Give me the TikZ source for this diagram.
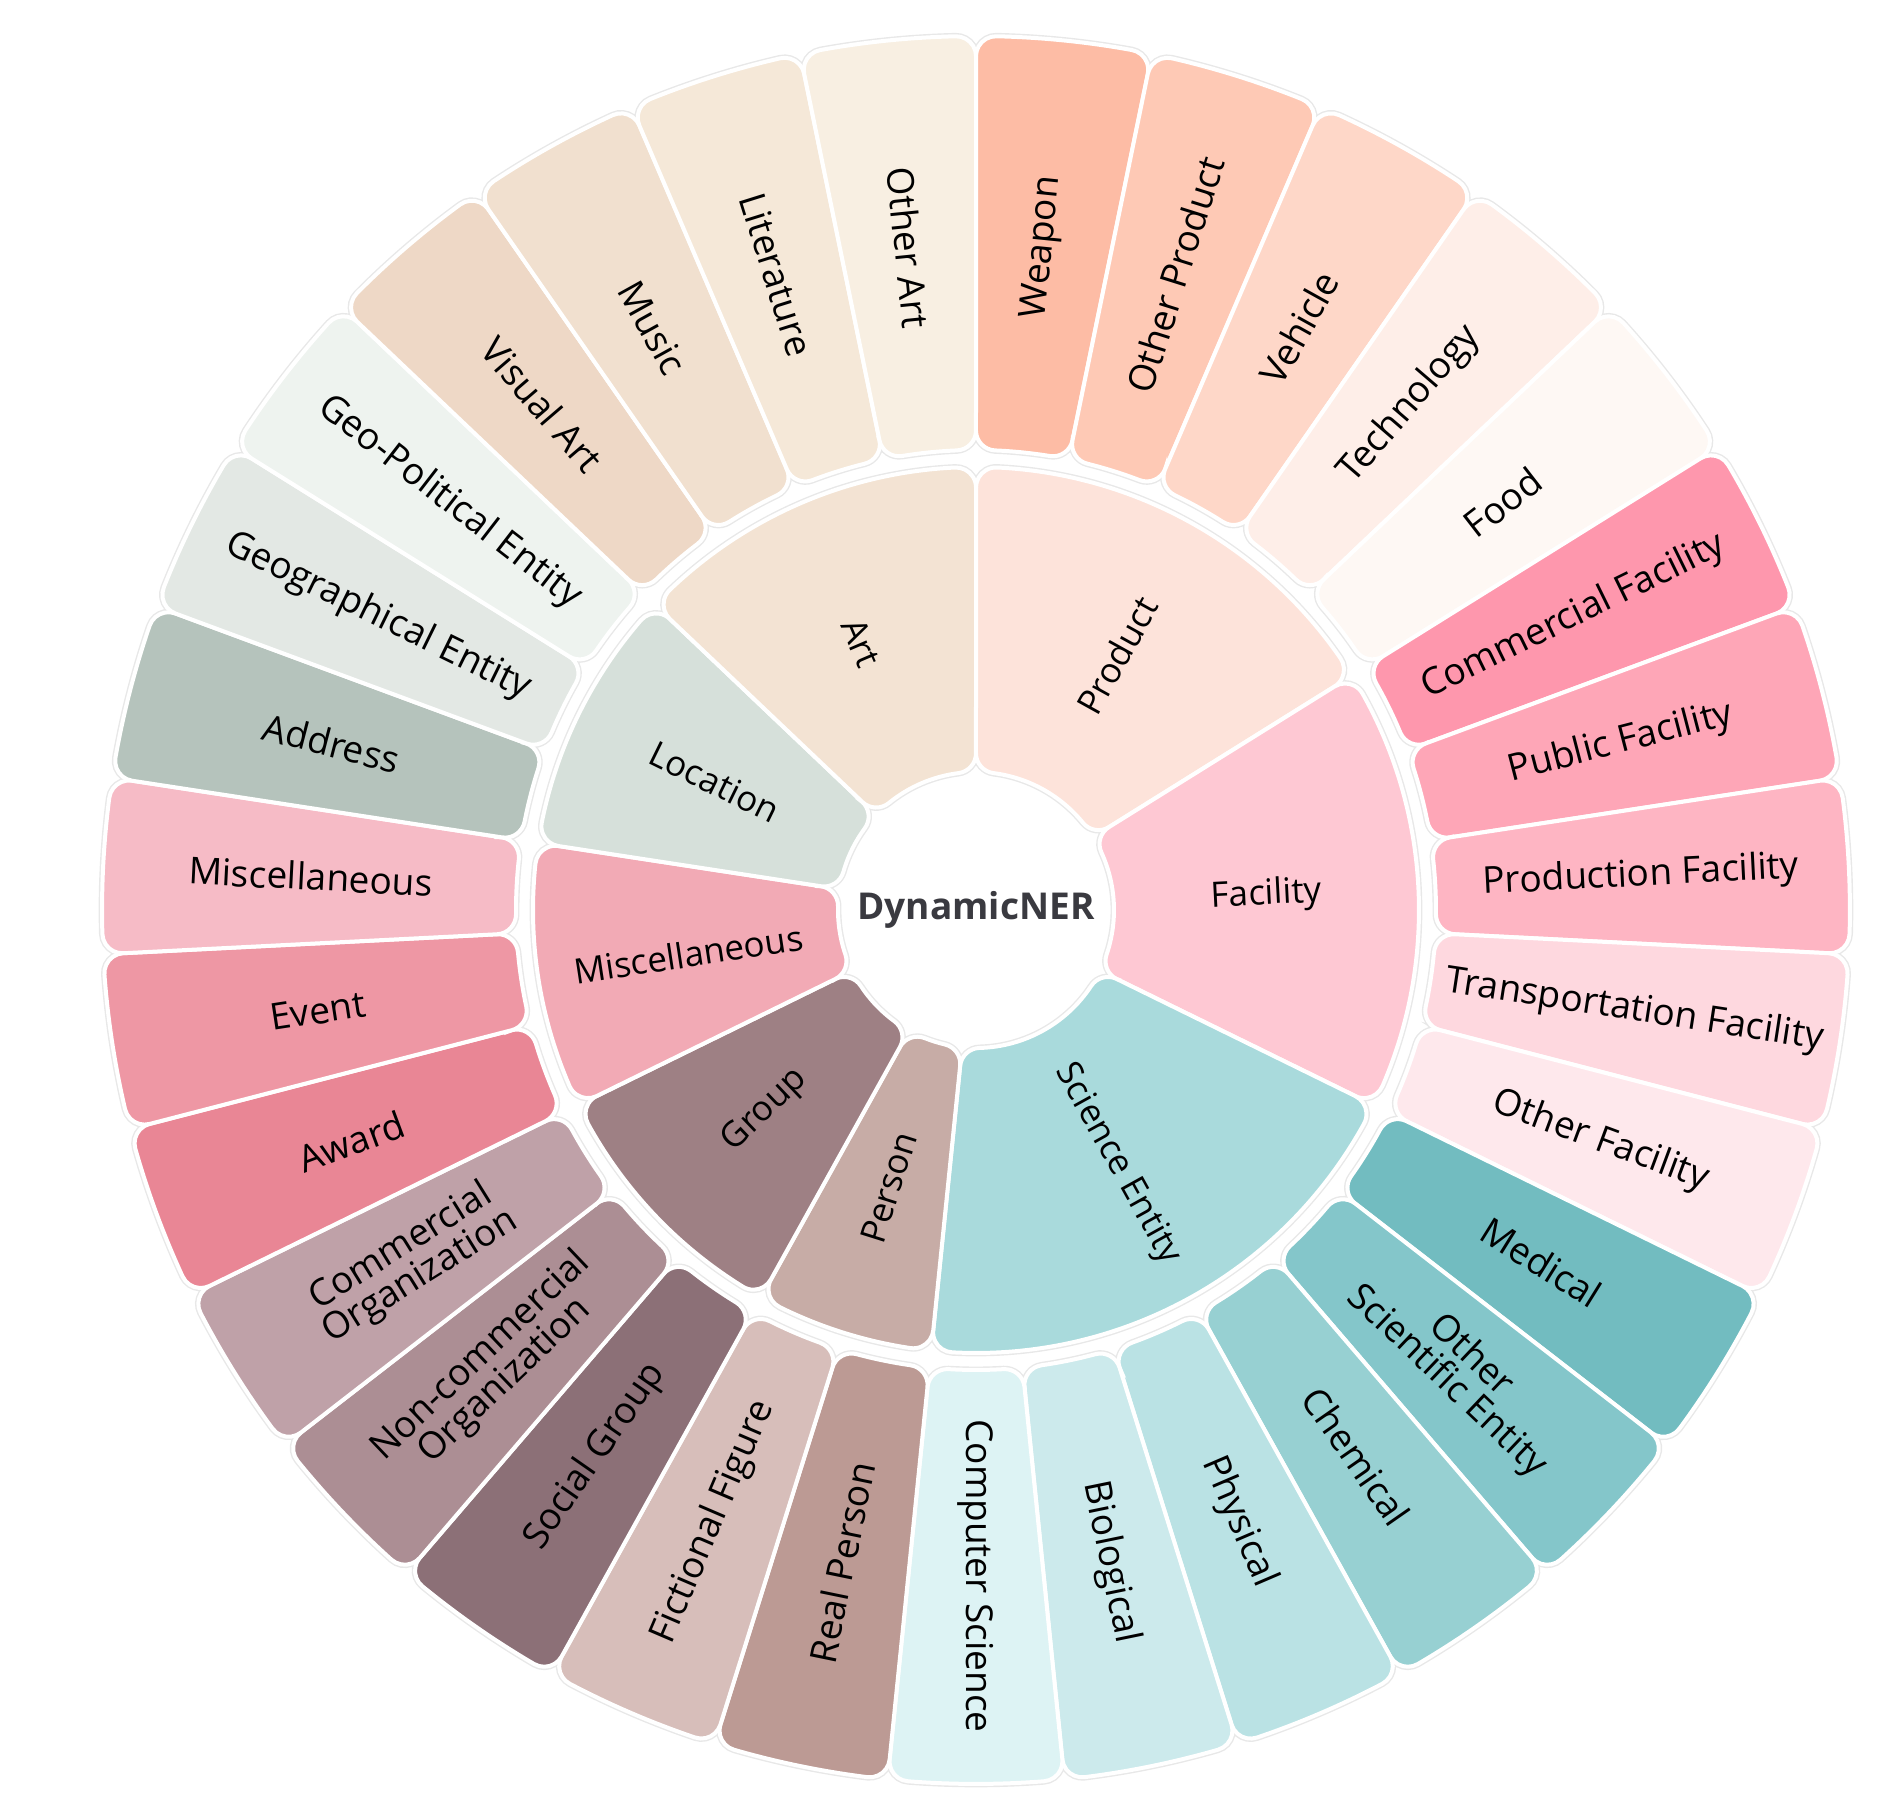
\documentclass[tikz,border=0pt]{standalone}
\usepackage{fontspec}
\setmainfont{Open Sans}
\definecolor{ctext}{HTML}{3A3A40}
\tikzset{
  shade seg/.style={draw=black!9, line width=3.4pt},
  seg/.style={draw=white, line width=2pt},
  leaflabel/.style={font=\fontsize{18.5}{17.5}\selectfont, align=center, text=black},
  innerlabel/.style={font=\fontsize{17.5}{17}\selectfont, align=center, text=black},
}
\def\crad{10}
\newcommand{\mysect}[5]{%
  \pgfmathsetmacro{\dO}{asin(\crad/(#4-\crad))}%
  \pgfmathsetmacro{\dI}{asin(\crad/(#3+\crad))}%
  \pgfmathsetmacro{\pO}{(#4-\crad)*cos(\dO)}%
  \pgfmathsetmacro{\pI}{(#3+\crad)*cos(\dI)}%
  \path[#5] (#1:\pI pt) -- (#1:\pO pt)
    arc[start angle=#1+90, end angle=#1-\dO, radius=\crad pt]
    arc[start angle=#1-\dO, end angle=#2+\dO, radius=#4 pt]
    arc[start angle=#2+\dO, end angle=#2-90, radius=\crad pt]
    -- (#2:\pI pt)
    arc[start angle=#2-90, end angle=#2-180+\dI, radius=\crad pt]
    arc[start angle=#2+\dI, end angle=#1-\dI, radius=#3 pt]
    arc[start angle=#1-\dI-180, end angle=#1-270, radius=\crad pt]
    -- cycle;}
\def\leaves{Weapon/FDBCA5, Other Product/FEC9B5, Vehicle/FED7C8, Technology/FEEEE8, Food/FEF8F4,
 Commercial Facility/FE97AD, Public Facility/FEA6B7, Production Facility/FEB5C3, Transportation Facility/FED8DF, Other Facility/FEE8EC,
 Medical/72BCC0, {Other\\Scientific Entity}/84C6CA, Chemical/97D0D2, Physical/BAE2E4, Biological/CCEAEC, Computer Science/DDF3F4,
 Real Person/BC9A94, Fictional Figure/D7BEBA,
 Social Group/8C7077, {Non-commercial\\Organization}/AC8E94, {Commercial\\Organization}/BFA1A8,
 Award/E98695, Event/EE97A4, Miscellaneous/F6BBC6,
 Address/B5C3BC, Geographical Entity/E3E8E4, Geo-Political Entity/EEF3EF,
 Visual Art/EED8C6, Music/F1E0CF, Literature/F5E8D8, Other Art/F8EFE2}
\def\inners{Product/0/5/FDE3DA, Facility/5/5/FEC8D3, Science Entity/10/6/A9DADC, Person/16/2/C7ACA6,
 Group/18/3/9E8084, Miscellaneous/21/3/F2AAB5, Location/24/3/D6E0DA, Art/27/4/F3E3D3}
\begin{document}
\begin{tikzpicture}
\useasboundingbox (-488pt,-449.5pt) rectangle (463pt,455pt);
\pgfmathsetmacro{\unitang}{360/31}
% shadows
\foreach \nm/\hx [count=\k from 0] in \leaves {
  \pgfmathsetmacro{\aA}{90-\k*\unitang}
  \pgfmathsetmacro{\aB}{90-(\k+1)*\unitang}
  \mysect{\aA}{\aB}{230}{437}{shade seg}
}
\foreach \nm/\st/\n/\hx in \inners {
  \pgfmathsetmacro{\aA}{90-\st*\unitang}
  \pgfmathsetmacro{\aB}{90-(\st+\n)*\unitang}
  \mysect{\aA}{\aB}{69}{221.5}{shade seg}
}
% fills
\foreach \nm/\hx [count=\k from 0] in \leaves {
  \pgfmathsetmacro{\aA}{90-\k*\unitang}
  \pgfmathsetmacro{\aB}{90-(\k+1)*\unitang}
  \definecolor{tmpc}{HTML}{\hx}
  \mysect{\aA}{\aB}{230}{437}{seg, fill=tmpc}
}
\foreach \nm/\st/\n/\hx in \inners {
  \pgfmathsetmacro{\aA}{90-\st*\unitang}
  \pgfmathsetmacro{\aB}{90-(\st+\n)*\unitang}
  \definecolor{tmpc}{HTML}{\hx}
  \mysect{\aA}{\aB}{69}{221.5}{seg, fill=tmpc}
}
% labels
\foreach \nm/\hx [count=\k from 0] in \leaves {
  \pgfmathsetmacro{\m}{90-(\k+0.5)*\unitang}
  \pgfmathsetmacro{\rot}{(\m < -90.01) ? \m+180 : \m}
  \node[leaflabel, rotate=\rot] (leaf\k) at (\m:333pt) {\nm};
}
\foreach \nm/\st/\n/\hx [count=\j] in \inners {
  \pgfmathsetmacro{\m}{90-(\st+\n/2)*\unitang}
  \pgfmathsetmacro{\rot}{(\m < -90.01) ? \m+180 : \m}
  \node[innerlabel, rotate=\rot] (cat\j) at (\m:145.5pt) {\nm};
}
\node[font=\bfseries\fontsize{18.5}{20}\selectfont, text=ctext] (root) at (0,0) {DynamicNER};
\end{tikzpicture}
\end{document}
